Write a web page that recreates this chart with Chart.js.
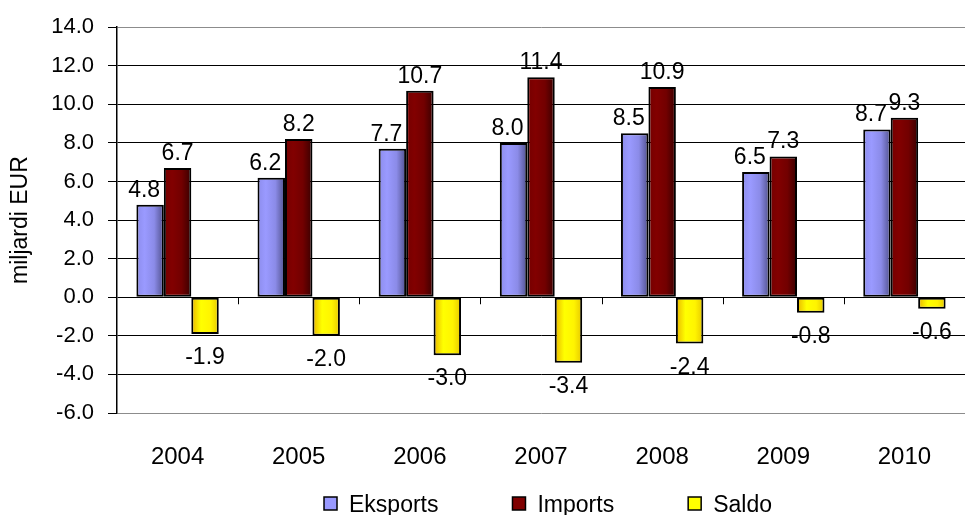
<!DOCTYPE html>
<html><head><meta charset="utf-8">
<script src="https://cdn.jsdelivr.net/npm/chart.js@4"></script>
<style>html,body{margin:0;padding:0;background:#fff}</style>
</head><body>
<canvas id="c" width="968" height="515"></canvas>
<script>
const categories = ['2004','2005','2006','2007','2008','2009','2010'];
const eksports = [4.8, 6.2, 7.7, 8.0, 8.5, 6.5, 8.7];
const imports  = [6.7, 8.2, 10.7, 11.4, 10.9, 7.3, 9.3];
const saldo    = [-1.9, -2.0, -3.0, -3.4, -2.4, -0.8, -0.6];
const seriesNames = ['Eksports', 'Imports', 'Saldo'];
const yAxisTitle = 'miljardi EUR';
const yMin = -6, yMax = 14, yStep = 2;

const FONT = "'Liberation Sans', Arial, sans-serif";
const baseColors = ['#9999FF', '#800000', '#FFFF00'];
const gradStops = [
  [[0, '#8c8cec'], [0.3, '#9a9aff'], [0.65, '#8b8be8'], [1, '#50508c']],
  [[0, '#740000'], [0.3, '#820000'], [0.65, '#720000'], [1, '#380000']],
  [[0, '#e8b400'], [0.35, '#ffff00'], [0.7, '#fff400'], [1, '#e6c800']]
];
const CAT_PCT = 0.68;

function barGradient(ctx) {
  const chart = ctx.chart;
  const ds = ctx.datasetIndex;
  if (!chart.chartArea || ctx.type !== 'data' || !chart.scales.x) return baseColors[ds];
  const xs = chart.scales.x;
  const n = chart.data.labels.length;
  const nds = chart.data.datasets.length;
  const catW = (xs.right - xs.left) / n;
  const barW = catW * CAT_PCT / nds;
  const cx = xs.getPixelForValue(ctx.dataIndex) + (ds - (nds - 1) / 2) * barW;
  const g = chart.ctx.createLinearGradient(cx - barW / 2, 0, cx + barW / 2, 0);
  gradStops[ds].forEach(s => g.addColorStop(s[0], s[1]));
  return g;
}

const dataLabels = {
  id: 'dataLabels',
  afterDatasetsDraw(chart) {
    const c = chart.ctx;
    c.save();
    c.font = '23px ' + FONT;
    c.fillStyle = '#000';
    c.textAlign = 'center';
    c.textBaseline = 'alphabetic';
    chart.data.datasets.forEach((ds, di) => {
      const meta = chart.getDatasetMeta(di);
      meta.data.forEach((el, i) => {
        const v = ds.data[i];
        const txt = v.toFixed(1);
        let x = el.x, y;
        if (v >= 0) {
          y = el.y - 8;
          if (di === 0) x -= 6;
        } else {
          y = el.y + 30;
        }
        c.fillText(txt, x, y);
      });
    });
    c.restore();
  }
};

const catTicks = {
  id: 'catTicks',
  afterDatasetsDraw(chart) {
    const xs = chart.scales.x, ys = chart.scales.y;
    const y0 = ys.getPixelForValue(0);
    const c = chart.ctx;
    c.save();
    c.strokeStyle = '#000';
    c.lineWidth = 1;
    c.beginPath();
    for (let i = 0; i < categories.length - 1; i++) {
      const x = Math.round((xs.getPixelForValue(i) + xs.getPixelForValue(i + 1)) / 2) + 0.5;
      c.moveTo(x, y0);
      c.lineTo(x, y0 + 7);
    }
    c.stroke();
    c.restore();
  }
};

const customLegend = {
  id: 'customLegend',
  afterDraw(chart) {
    const c = chart.ctx;
    c.save();
    c.font = '23px ' + FONT;
    c.textBaseline = 'alphabetic';
    c.textAlign = 'left';
    const box = 13, gapText = 12, gapItem = 74;
    const widths = seriesNames.map(s => c.measureText(s).width);
    const total = widths.reduce((a, w) => a + box + gapText + w, 0) + gapItem * (seriesNames.length - 1);
    let x = chart.width / 2 + 64 - total / 2;
    const baseY = 512;
    seriesNames.forEach((s, i) => {
      c.fillStyle = baseColors[i];
      c.fillRect(x, baseY - 15, box, box);
      c.strokeStyle = '#000';
      c.lineWidth = 1.5;
      c.strokeRect(x, baseY - 15, box, box);
      c.fillStyle = '#000';
      c.fillText(s, x + box + gapText, baseY);
      x += box + gapText + widths[i] + gapItem;
    });
    c.restore();
  }
};

const mkDs = (label, data) => ({
  label, data,
  backgroundColor: barGradient,
  borderColor: '#000',
  borderWidth: 2,
  borderSkipped: false,
  categoryPercentage: CAT_PCT,
  barPercentage: 1.0
});

new Chart(document.getElementById('c'), {
  type: 'bar',
  data: {
    labels: categories,
    datasets: [
      mkDs(seriesNames[0], eksports),
      mkDs(seriesNames[1], imports),
      mkDs(seriesNames[2], saldo)
    ]
  },
  options: {
    responsive: false,
    animation: false,
    devicePixelRatio: 1,
    layout: { padding: { top: 26, right: 3, left: 0, bottom: 0 } },
    plugins: { legend: { display: false }, tooltip: { enabled: false } },
    scales: {
      x: {
        grid: { display: false },
        border: { display: false },
        ticks: { color: '#000', font: { family: FONT, size: 24 }, padding: 22, maxRotation: 0 },
        afterFit(scale) { scale.height = 102; }
      },
      y: {
        min: yMin, max: yMax,
        ticks: {
          stepSize: yStep,
          color: '#000',
          font: { family: FONT, size: 22 },
          padding: 14,
          callback: v => Number(v).toFixed(1)
        },
        grid: {
          color: ctx => (ctx.tick && (ctx.tick.value === yMax || ctx.tick.value === yMin)) ? '#8c8c8c' : '#000',
          lineWidth: 1,
          tickLength: 9,
          tickColor: '#000'
        },
        border: { color: '#000', width: 1.5 },
        title: { display: true, text: yAxisTitle, color: '#000', font: { family: FONT, size: 23 }, padding: { top: 7, bottom: 0 } },
        afterFit(scale) { scale.width = 117; }
      }
    }
  },
  plugins: [dataLabels, catTicks, customLegend]
});
</script>
</body></html>
